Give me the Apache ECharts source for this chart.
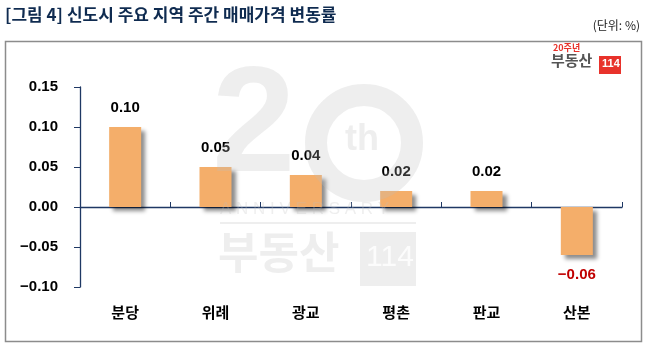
<!DOCTYPE html>
<html><head><meta charset="utf-8">
<script src="https://cdn.jsdelivr.net/npm/echarts@6/dist/echarts.min.js"></script>
<style>html,body{margin:0;padding:0;background:#fff}#c{width:656px;height:362px}</style>
</head><body><div id="c"></div>
<script>
const categories = ['분당','위례','광교','평촌','판교','산본'];
const values = [0.10, 0.05, 0.04, 0.02, 0.02, -0.06];
const yTicks = [-0.10, -0.05, 0.00, 0.05, 0.10, 0.15];

const chart = echarts.init(document.getElementById('c'));
const wmColor = 'rgba(190,190,190,0.26)';
chart.setOption({
  animation: false,
  backgroundColor: '#fff',
  grid: {left: 80, right: 34, top: 87, bottom: 75},
  xAxis: {
    type: 'category', data: categories,
    axisLine: {onZero: true, lineStyle: {color: '#1F3864', width: 1.3}},
    axisTick: {show: true, inside: true, length: 5, lineStyle: {color: '#1F3864'}, alignWithLabel: false},
    axisLabel: {show: false}
  },
  yAxis: {
    type: 'value', min: yTicks[0], max: yTicks[yTicks.length-1], interval: 0.05,
    axisLine: {show: true, lineStyle: {color: '#1F3864', width: 1.3}},
    axisTick: {show: true, length: 6, lineStyle: {color: '#1F3864'}},
    splitLine: {show: false},
    axisLabel: {margin: 22, color: '#000', fontSize: 15, fontWeight: 'bold',
      fontFamily: 'Liberation Sans, Arial',
      formatter: v => (v < 0 ? '\u2212' : '') + Math.abs(v).toFixed(2)}
  },
  series: [{
    type: 'bar', barWidth: 32,
    data: values.map(v => ({
      value: v,
      label: {position: v < 0 ? 'bottom' : 'top', color: v < 0 ? '#C00000' : '#000', distance: 12}
    })),
    itemStyle: {color: '#F4AE6A', shadowColor: 'rgba(0,0,0,0.45)', shadowBlur: 4, shadowOffsetX: 4, shadowOffsetY: 4},
    label: {show: true, fontSize: 15, fontWeight: 'bold', fontFamily: 'Liberation Sans, Arial',
      formatter: p => (p.value < 0 ? '\u2212' : '') + Math.abs(p.value).toFixed(2)}
  }, {
    type: 'bar', barWidth: 32, barGap: '-100%', silent: true,
    data: categories.map(() => yTicks[0]),
    itemStyle: {color: 'rgba(0,0,0,0)'},
    label: {show: true, position: 'bottom', distance: 18, color: '#000', fontSize: 15, fontWeight: 'bold',
      fontFamily: 'Noto Sans CJK KR', formatter: p => categories[p.dataIndex]}
  }],
  graphic: [
    {type: 'rect', shape: {x: 5.5, y: 41.5, width: 636, height: 300}, style: {fill: 'none', stroke: '#8c8c8c', lineWidth: 1.5}, z: -10},
    {type: 'text', left: 5, top: 6, style: {text: '[그림 4] 신도시 주요 지역 주간 매매가격 변동률', fill: '#0F2B50', font: 'bold 17px "Noto Sans CJK KR"'}},
    {type: 'text', right: 16, top: 19, style: {text: '(단위: %)', fill: '#222', font: '12px "Noto Sans CJK KR"'}},
    // logo top right
    {type: 'text', left: 553, top: 43, style: {text: '20주년', fill: '#E8322B', font: 'bold 9px "Noto Sans CJK KR"'}},
    {type: 'text', left: 551, top: 53, style: {text: '부동산', fill: '#555', font: 'bold 15px "Noto Sans CJK KR"'}},
    {type: 'rect', shape: {x: 599, y: 56, width: 22, height: 18}, style: {fill: '#E8322B'}},
    {type: 'text', left: 602, top: 58, style: {text: '114', fill: '#fff', font: 'bold 11px "Liberation Sans Narrow", "Liberation Sans"'}},
    // watermark
    {type: 'text', left: 212, top: 55, z: 100, style: {text: '2', fill: wmColor, font: 'bold 150px "Liberation Sans"'}},
    {type: 'circle', z: 100, shape: {cx: 364, cy: 143, r: 48}, style: {fill: 'none', stroke: wmColor, lineWidth: 22}},
    {type: 'text', left: 345, top: 122, z: 100, style: {text: 'th', fill: wmColor, font: 'bold 36px "Liberation Sans"'}},
    {type: 'text', left: 220, top: 201, z: 100, style: {text: 'A N N I V E R S A R Y', fill: wmColor, font: '17px "Liberation Sans"'}},
    {type: 'rect', z: 100, shape: {x: 220, y: 222, width: 196, height: 2}, style: {fill: wmColor}},
    {type: 'text', left: 218, top: 230, z: 100, style: {text: '부동산', fill: wmColor, font: 'bold 44px "Noto Sans CJK KR"'}},
    {type: 'rect', z: 100, shape: {x: 360, y: 232, width: 56, height: 54}, style: {fill: wmColor}},
    {type: 'text', left: 366, top: 243, z: 101, style: {text: '114', fill: 'rgba(255,255,255,0.8)', font: '30px "Liberation Sans Narrow", "Liberation Sans"'}}
  ]
});
</script></body></html>
